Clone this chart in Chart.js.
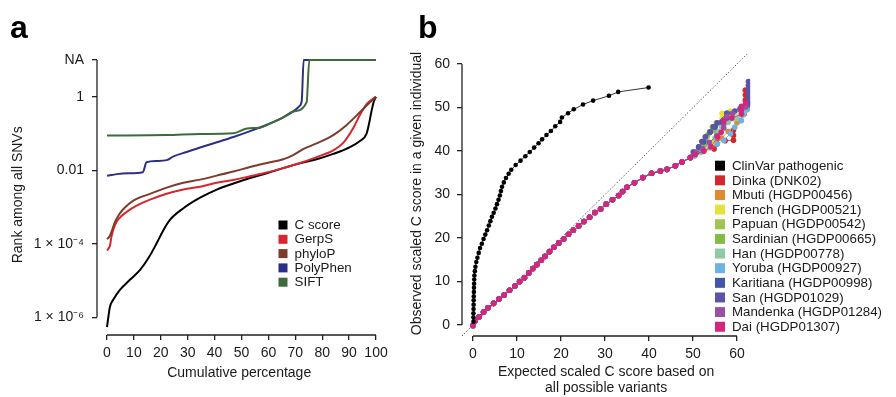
<!DOCTYPE html>
<html><head><meta charset="utf-8">
<script src="https://cdn.jsdelivr.net/npm/chart.js@4/dist/chart.umd.min.js"></script>
<style>
html,body{margin:0;padding:0;background:#fff;width:896px;height:397px;overflow:hidden}
#ca{position:absolute;left:0;top:0}
#cb{position:absolute;left:400px;top:0}
</style>
</head><body>
<canvas id="ca" width="400" height="397"></canvas>
<canvas id="cb" width="496" height="397"></canvas>
<script>
// ---------------- Panel a data: [cumulative %, rank among all SNVs] ----------------
const aNames = ['C score', 'GerpS', 'phyloP', 'PolyPhen', 'SIFT'];
const aColors = ['#000000', '#d7262d', '#7b3c2c', '#2c2f86', '#3d6b3a'];
const cScore = [[0,5.4e-7],[0.3,8e-7],[1.1,1.95e-6],[2.3,3.0e-6],[4.8,5.6e-6],[8.5,1.05e-5],[12.3,1.95e-5],[15.4,4.1e-5],[18.5,1.05e-4],[21,2.4e-4],[23.4,4.5e-4],[28.4,9.3e-4],[34.6,1.8e-3],[40.8,3.0e-3],[47,4.4e-3],[53.2,6.2e-3],[59.4,8.3e-3],[65.5,0.0115],[71.7,0.0155],[77.9,0.020],[84.1,0.028],[90.3,0.043],[94,0.063],[96.5,0.1],[97.5,0.2],[98.3,0.4],[99.2,0.76],[100,1]];
const gerpS = [[0,6.6e-5],[0.6,7.6e-5],[1.1,8.9e-5],[1.6,1.5e-4],[2.9,3.2e-4],[4.8,5.2e-4],[7.3,7.4e-4],[11,1.1e-3],[16,1.6e-3],[22.2,2.3e-3],[28.4,3.0e-3],[34.6,3.6e-3],[40.8,4.6e-3],[47,5.5e-3],[53.2,6.9e-3],[59.4,8.7e-3],[65.5,0.0115],[71.7,0.0158],[77.9,0.023],[84.1,0.035],[87.8,0.056],[91.5,0.14],[94,0.32],[96.5,0.63],[98.5,0.85],[100,1]];
const phyloP = [[0,1.35e-4],[1.1,1.66e-4],[2,2.5e-4],[3,4.0e-4],[4.5,6.3e-4],[6.1,8.9e-4],[9.8,1.5e-3],[16,2.3e-3],[22.2,3.4e-3],[28.4,4.6e-3],[34.6,5.6e-3],[40.8,7.2e-3],[47,9.3e-3],[53.2,0.0123],[59.4,0.0158],[65.5,0.020],[69.2,0.026],[72.9,0.038],[77.9,0.054],[84.1,0.091],[89,0.17],[94,0.38],[97,0.63],[100,1]];
const polyPhen = [[0,7.1e-3],[3.6,7.9e-3],[8,8.3e-3],[13.3,8.9e-3],[14.7,0.0166],[18.5,0.018],[22.2,0.019],[24.7,0.024],[29.6,0.0316],[34.6,0.042],[40.8,0.058],[47,0.081],[53.2,0.117],[59.4,0.174],[65.5,0.275],[69.2,0.4],[71.7,0.575],[72.4,0.8],[73.1,10],[100,10]];
const sift = [[0,0.089],[22.2,0.091],[34.6,0.098],[47,0.102],[52,0.138],[56.9,0.145],[59.4,0.17],[65.5,0.275],[69.2,0.4],[74.2,0.71],[75.2,10],[100,10]];
const aYTicks = [1e-6, 1e-4, 1e-2, 1, 10];
const aYLabels = ['1 × 10⁻⁶', '1 × 10⁻⁴', '0.01', '1', 'NA'];
const aXTicks = [0,10,20,30,40,50,60,70,80,90,100];

// ---------------- Panel b data: [expected, observed] ----------------
const bNames = ['ClinVar pathogenic','Dinka (DNK02)','Mbuti (HGDP00456)','French (HGDP00521)','Papuan (HGDP00542)','Sardinian (HGDP00665)','Han (HGDP00778)','Yoruba (HGDP00927)','Karitiana (HGDP00998)','San (HGDP01029)','Mandenka (HGDP01284)','Dai (HGDP01307)'];
const bColors = ['#000000','#d4262c','#e0892e','#e3e33c','#9cc64c','#84bb4a','#8ec9a5','#6cb2e2','#4156a8','#5b54a4','#9a4f9f','#d4267f'];
const clinvar = [[0.1,0.8],[0.1,1.8],[0.1,2.7],[0.12,3.7],[0.14,4.7],[0.15,5.7],[0.17,6.6],[0.2,7.6],[0.22,8.6],[0.25,9.5],[0.28,10.5],[0.32,11.4],[0.42,12.4],[0.55,13.4],[0.75,14.5],[1.0,15.5],[1.3,16.6],[1.6,17.7],[2.0,18.7],[2.4,19.8],[2.8,20.8],[3.2,21.8],[3.6,22.9],[3.95,23.9],[4.3,24.9],[4.7,25.8],[5.1,26.8],[5.45,27.8],[5.8,28.8],[6.1,29.8],[6.35,30.8],[6.6,31.8],[7.0,32.8],[7.5,33.8],[8.1,34.8],[8.7,35.7],[9.7,36.8],[10.8,37.8],[11.9,38.8],[12.9,39.8],[13.9,40.8],[14.9,41.8],[15.7,42.7],[16.7,43.7],[17.7,44.6],[18.7,45.7],[19.8,46.7],[20.2,47.7],[21.6,48.7],[22.9,49.6],[25.0,50.7],[27.3,51.6],[30.9,52.7],[33.0,53.6],[39.9,54.6]];
const sharedQQ = [[0,-0.1],[0.5,1.0],[1.4,1.9],[2.4,3.0],[3.4,4.0],[4.7,5.0],[5.9,6.0],[7.1,6.9],[8.3,8.0],[9.5,9.0],[10.6,10.0],[11.7,10.9],[12.7,12.0],[13.6,13.0],[14.5,13.9],[15.5,14.9],[16.4,15.8],[17.4,16.9],[18.4,17.9],[19.5,18.9],[20.6,19.8],[21.7,20.9],[22.8,21.8],[24.0,22.8],[25.2,23.8],[26.5,24.8],[27.7,25.9],[29.0,26.7],[30.3,27.8],[31.7,28.8],[33.1,29.8],[34.0,30.7],[35.0,31.7],[36.7,32.7],[38.6,33.9],[40.6,34.9],[42.6,35.4],[44.1,35.8],[46.0,36.6],[47.5,37.5],[49.4,38.5]];
const dinkaTail = [[50.5,39.2],[52,40],[54.8,40.5],[55.5,41.7],[55.5,42.8],[57.3,42.4],[59.2,42.5],[59.2,43.6],[59.2,44.8],[60.5,47],[61.6,48.5],[61.9,49.4],[61.9,50.6],[61.9,51.7],[61.9,52.9],[61.9,54.0]];
const mbutiTail = [[50.5,39.5],[52.5,40.5],[54.5,41.5],[56.5,43],[58,44.5],[60,46.5],[61.5,48.5],[62,50]];
const frenchTail = [[50.1,38.8],[51.5,39.6],[53,40.5],[54.5,42],[56.6,46.4],[56.6,47.5],[56.6,48.7],[58.5,49.2],[61,49.8],[62.3,50.5]];
const papuanTail = [[50.5,39.5],[51.8,40.8],[52.6,42],[53.2,43.3],[53.8,44.5],[54.4,45.6],[55.3,46.5],[57,47],[59,48],[61,49],[62,50.5]];
const sardinianTail = [[50.2,39.2],[51.5,40.3],[52.4,41.8],[52.8,42.8],[53.4,43.8],[55.1,44.6],[55.1,45.7],[57,46.5],[59,47.5],[61.5,48.8],[62.2,50]];
const hanTail = [[50.5,39],[52,40.2],[53.5,41.5],[55,43],[55.8,44.5],[56.5,45.7],[58,46.6],[60,47.5],[61.5,48.8],[62.2,49.5]];
const yorubaTail = [[50.4,38.9],[52,39.8],[54,40.8],[55.5,41.6],[57,42.5],[58.5,44],[59.5,45.5],[61,47],[61.3,48.3],[62.4,49.6]];
const karitianaTail = [[50.1,39.8],[51.3,41],[52.4,42.1],[53.9,44.4],[55,45.5],[56.6,46.6],[57.7,47.6],[57.7,48.7],[59.5,49.2],[61.1,49.8],[62.5,51]];
const sanTail = [[50.1,39.8],[51.3,40.9],[52,42.2],[52.8,43.3],[53.9,44.4],[54.6,45.6],[55.5,46.5],[57.7,48.7],[60.7,49.8],[62.6,50.6],[62.6,51.5],[62.6,52.4],[62.6,53.3],[62.6,54.2],[62.6,55.1],[62.6,56]];
const mandenkaTail = [[50.8,39.6],[52.2,40.5],[53.7,42],[55.4,43.5],[57,45.3],[57,46.2],[57,47.1],[57.7,48],[59,48.7],[61,49.3],[62,50.2]];
const daiTail = [[50.5,39.2],[52.5,40],[54.1,41],[55.6,43.3],[56.4,44.3],[57,47],[58.8,47.6],[61,48.5],[61,49.4],[61,50.3],[62,51]];
const popTails = [dinkaTail, mbutiTail, frenchTail, papuanTail, sardinianTail, hanTail, yorubaTail, karitianaTail, sanTail, mandenkaTail, daiTail];
const diagonal = [[-2.5,-2.5],[62.3,62.3]];
const bTicks = [0,10,20,30,40,50,60];

// ---------------- common ----------------
const FONT = "'Liberation Sans', Arial, Helvetica, sans-serif";
Chart.defaults.font.family = FONT;
Chart.defaults.font.size = 14;
Chart.defaults.color = '#1a1a1a';
const toXY = arr => arr.map(p => ({x: p[0], y: p[1]}));

const panelPlugin = {
  id: 'panel',
  afterDraw(chart, args, o) {
    const {ctx, chartArea: ca, scales: {x, y}} = chart;
    ctx.save();
    ctx.strokeStyle = '#222'; ctx.lineWidth = 1.3;
    ctx.beginPath();
    ctx.moveTo(ca.left, y.getPixelForValue(o.yFrom));
    ctx.lineTo(ca.left, y.getPixelForValue(o.yTo));
    ctx.moveTo(x.getPixelForValue(o.xFrom), ca.bottom);
    ctx.lineTo(x.getPixelForValue(o.xTo), ca.bottom);
    ctx.stroke();
    ctx.fillStyle = '#000';
    ctx.font = 'bold 32px ' + FONT;
    ctx.textAlign = 'left'; ctx.textBaseline = 'alphabetic';
    ctx.fillText(o.label, o.lx, o.ly);
    ctx.font = o.legFont + 'px ' + FONT;
    ctx.textBaseline = 'middle';
    o.names.forEach((n, i) => {
      const cy = o.legY + i * o.legStep;
      ctx.fillStyle = o.colors[i];
      ctx.fillRect(o.legX, cy - o.box / 2, o.box, o.box);
      ctx.fillStyle = '#1a1a1a';
      ctx.fillText(n, o.legX + o.box + 7, cy + 0.5);
    });
    ctx.restore();
  }
};

const tickGrid = {display: true, drawOnChartArea: false, drawTicks: true, tickLength: 5, color: '#222', lineWidth: 1.3};

// ---------------- Panel a ----------------
const aSeries = [cScore, gerpS, phyloP, polyPhen, sift];
new Chart(document.getElementById('ca'), {
  type: 'scatter',
  data: {
    datasets: aSeries.map((s, i) => ({
      label: aNames[i], data: toXY(s), showLine: true, pointRadius: 0,
      borderColor: aColors[i], borderWidth: 2, cubicInterpolationMode: 'monotone',
      order: -i
    }))
  },
  options: {
    responsive: false, animation: false, events: [],
    layout: {padding: {top: 54.6, right: 18.6, bottom: 0, left: 0}},
    plugins: {
      legend: {display: false}, tooltip: {enabled: false},
      panel: {yFrom: 1e-6, yTo: 10, xFrom: 0, xTo: 100, label: 'a', lx: 10, ly: 38,
        names: aNames, colors: aColors, legX: 278.5, legY: 225, legStep: 14.3, box: 9, legFont: 13.4}
    },
    scales: {
      x: {
        type: 'linear', min: -3.72, max: 102,
        afterBuildTicks: s => { s.ticks = aXTicks.map(v => ({value: v})); },
        afterFit: s => { s.height = 62; },
        ticks: {autoSkip: false, maxRotation: 0, padding: 5, color: '#1a1a1a'},
        grid: tickGrid, border: {display: false},
        title: {display: true, text: 'Cumulative percentage', color: '#1a1a1a', padding: {top: 0, bottom: 15.6}}
      },
      y: {
        type: 'logarithmic', min: Math.pow(10, -6.48), max: Math.pow(10, 1.15),
        afterBuildTicks: s => { s.ticks = aYTicks.map(v => ({value: v})); },
        afterFit: s => { s.width = 97; },
        ticks: {padding: 8, color: '#1a1a1a', callback: (v, i) => aYLabels[i]},
        grid: tickGrid, border: {display: false},
        title: {display: true, text: 'Rank among all SNVs', color: '#1a1a1a', padding: {top: 9.6, bottom: 0}}
      }
    }
  },
  plugins: [panelPlugin]
});

// ---------------- Panel b ----------------
const bDatasets = [{
  label: 'diag', data: toXY(diagonal), showLine: true, pointRadius: 0,
  borderColor: '#444', borderWidth: 1, borderDash: [1.2, 2], order: 5
}, {
  label: bNames[0], data: toXY(clinvar), showLine: true, pointRadius: 2.3,
  pointBorderWidth: 0, backgroundColor: bColors[0], borderColor: bColors[0], borderWidth: 0.8, order: -20
}];
popTails.forEach((tail, i) => {
  bDatasets.push({
    label: bNames[i + 1], data: toXY(sharedQQ.concat(tail)), showLine: true, pointRadius: 2.8,
    pointBorderWidth: 0, backgroundColor: bColors[i + 1], borderColor: bColors[i + 1], borderWidth: 0.8,
    order: -i
  });
});
new Chart(document.getElementById('cb'), {
  type: 'scatter',
  data: {datasets: bDatasets},
  options: {
    responsive: false, animation: false, events: [],
    layout: {padding: {top: 51, right: 145.8, bottom: 0, left: 0}},
    plugins: {
      legend: {display: false}, tooltip: {enabled: false},
      panel: {yFrom: 0, yTo: 60, xFrom: 0, xTo: 60, label: 'b', lx: 18, ly: 38,
        names: bNames, colors: bColors, legX: 315, legY: 165.7, legStep: 14.64, box: 10, legFont: 13.3}
    },
    scales: {
      x: {
        type: 'linear', min: -2.5, max: 63,
        afterBuildTicks: s => { s.ticks = bTicks.map(v => ({value: v})); },
        afterFit: s => { s.height = 61; },
        ticks: {autoSkip: false, maxRotation: 0, padding: 5, color: '#1a1a1a'},
        grid: tickGrid, border: {display: false},
        title: {display: true, text: ['Expected scaled C score based on', 'all possible variants'], color: '#1a1a1a', padding: {top: 0, bottom: 0}}
      },
      y: {
        type: 'linear', min: -2.5, max: 63,
        afterBuildTicks: s => { s.ticks = bTicks.map(v => ({value: v})); },
        afterFit: s => { s.width = 62; },
        ticks: {padding: 7, color: '#1a1a1a'},
        grid: tickGrid, border: {display: false},
        title: {display: true, text: 'Observed scaled C score in a given individual', color: '#1a1a1a', padding: {top: 8.6, bottom: 0}}
      }
    }
  },
  plugins: [panelPlugin]
});
</script>
</body></html>
